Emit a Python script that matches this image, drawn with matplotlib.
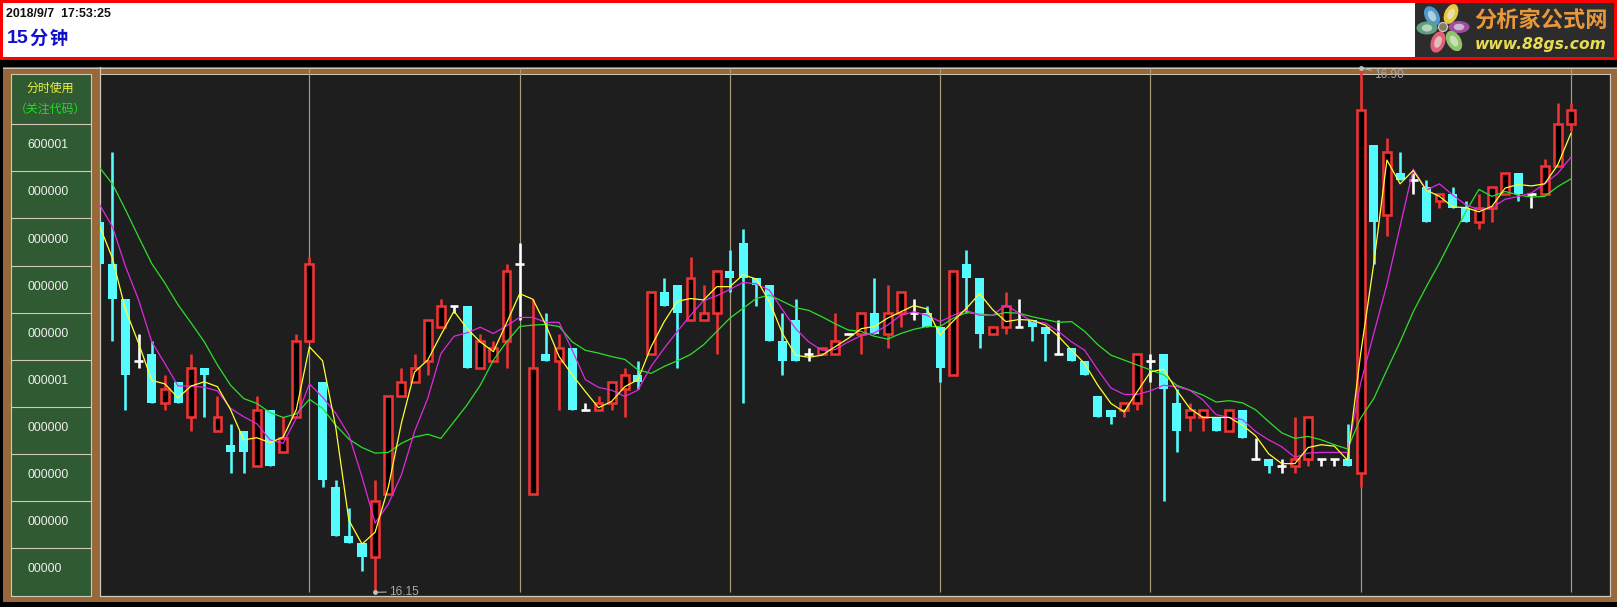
import matplotlib
matplotlib.use("Agg")
import matplotlib.pyplot as plt
from matplotlib.patches import Rectangle, Ellipse

CJK = ['Noto Sans CJK SC', 'DejaVu Sans']
LAT = ['Liberation Sans', 'DejaVu Sans']

# ---------- data ----------
timestamp = "2018/9/7  17:53:25"
period_num = "15"
period_chars = ["分", "钟"]
side_title = "分时使用"
side_sub = "（关注代码）"
side_codes = ["600001", "000000", "000000", "000000", "000000",
              "000001", "000000", "000000", "000000", "00000"]
day_start_bars = [16, 32, 48, 64, 80, 96, 112]

opens = [16.68,16.62,16.57,16.48,16.49,16.42,16.45,16.40,16.47,16.38,16.36,16.38,16.33,16.41,16.35,16.40,16.51,16.45,16.30,16.23,16.22,16.20,16.29,16.43,16.45,
         16.48,16.53,16.56,16.56,16.47,16.48,16.51,16.62,16.29,16.49,16.48,16.50,16.41,16.41,16.42,16.44,16.46,16.49,16.58,16.59,16.54,16.54,16.55,16.61,16.65,16.60,16.59,16.51,16.54,16.49,16.49,
         16.49,16.52,16.52,16.55,16.52,16.55,16.55,16.55,16.53,16.46,16.62,16.60,16.52,16.53,16.53,16.54,16.53,16.49,16.50,16.48,16.43,16.41,16.41,16.42,16.48,16.49,16.42,16.40,16.40,16.40,
         16.38,16.41,16.34,16.34,16.33,16.33,16.34,16.34,16.34,16.34,16.32,16.79,16.69,16.75,16.74,16.73,16.71,16.72,16.70,16.68,16.70,16.72,16.75,16.72,16.72,16.76,16.82]
highs = [16.68,16.78,16.57,16.52,16.51,16.46,16.45,16.49,16.47,16.43,16.39,16.38,16.43,16.41,16.40,16.52,16.63,16.45,16.31,16.27,16.22,16.31,16.43,16.47,16.49,
         16.54,16.57,16.56,16.56,16.52,16.51,16.62,16.65,16.57,16.55,16.52,16.50,16.42,16.43,16.45,16.47,16.48,16.58,16.60,16.59,16.63,16.59,16.61,16.64,16.67,16.60,16.59,16.55,16.57,16.50,16.50,
         16.55,16.52,16.55,16.60,16.59,16.58,16.57,16.56,16.53,16.61,16.64,16.60,16.53,16.58,16.57,16.54,16.53,16.54,16.50,16.48,16.43,16.41,16.42,16.49,16.49,16.49,16.44,16.42,16.41,16.40,
         16.41,16.41,16.37,16.34,16.34,16.40,16.40,16.34,16.34,16.39,16.90,16.79,16.80,16.78,16.75,16.74,16.72,16.73,16.71,16.72,16.73,16.75,16.75,16.72,16.77,16.85,16.85]
lows = [16.62,16.51,16.41,16.47,16.42,16.41,16.42,16.38,16.40,16.38,16.32,16.32,16.33,16.33,16.35,16.40,16.51,16.30,16.23,16.22,16.18,16.15,16.29,16.43,16.45,
        16.46,16.53,16.55,16.47,16.47,16.48,16.47,16.54,16.29,16.48,16.41,16.41,16.41,16.41,16.41,16.40,16.44,16.49,16.56,16.47,16.54,16.54,16.49,16.58,16.42,16.56,16.51,16.46,16.48,16.48,16.49,
        16.49,16.52,16.49,16.52,16.50,16.53,16.54,16.53,16.45,16.46,16.55,16.50,16.52,16.52,16.53,16.51,16.48,16.49,16.48,16.46,16.40,16.39,16.40,16.41,16.45,16.28,16.35,16.38,16.38,16.38,
        16.38,16.37,16.34,16.32,16.32,16.32,16.33,16.33,16.33,16.33,16.30,16.62,16.66,16.74,16.72,16.68,16.70,16.70,16.68,16.67,16.68,16.72,16.71,16.70,16.72,16.76,16.81]
closes = [16.62,16.57,16.46,16.48,16.42,16.44,16.42,16.47,16.46,16.40,16.35,16.35,16.41,16.33,16.37,16.51,16.62,16.31,16.23,16.22,16.20,16.28,16.43,16.45,16.47,
          16.54,16.56,16.56,16.47,16.51,16.50,16.61,16.62,16.47,16.48,16.50,16.41,16.41,16.42,16.45,16.46,16.45,16.58,16.56,16.55,16.60,16.55,16.61,16.60,16.60,16.59,16.51,16.48,16.48,16.49,16.50,
          16.51,16.52,16.55,16.52,16.55,16.58,16.55,16.53,16.47,16.61,16.60,16.52,16.53,16.56,16.53,16.53,16.52,16.49,16.48,16.46,16.40,16.40,16.42,16.49,16.48,16.44,16.38,16.41,16.41,16.38,
          16.41,16.37,16.34,16.33,16.33,16.34,16.40,16.34,16.34,16.33,16.84,16.68,16.78,16.74,16.74,16.68,16.72,16.70,16.68,16.70,16.73,16.75,16.72,16.72,16.76,16.82,16.84]

ma_yellow = [16.675,16.628,16.554,16.506,16.453,16.448,16.428,16.445,16.451,16.444,16.411,16.368,16.371,16.364,16.372,16.411,16.501,16.481,16.386,16.253,16.219,16.236,16.300,16.392,16.465,
             16.482,16.518,16.552,16.527,16.508,16.494,16.535,16.577,16.569,16.532,16.487,16.461,16.437,16.414,16.423,16.444,16.454,16.501,16.537,16.566,16.570,16.568,16.587,16.587,16.604,16.598,16.566,16.520,16.489,16.486,16.489,
             16.501,16.513,16.527,16.530,16.542,16.551,16.560,16.555,16.518,16.538,16.556,16.577,16.554,16.537,16.540,16.539,16.532,16.516,16.496,16.477,16.446,16.420,16.408,16.437,16.465,16.469,16.439,16.413,16.400,16.400,
             16.400,16.389,16.374,16.348,16.334,16.334,16.357,16.361,16.359,16.339,16.491,16.620,16.768,16.734,16.753,16.725,16.716,16.701,16.700,16.694,16.702,16.728,16.733,16.731,16.734,16.761,16.806]
ma_magenta = [16.705,16.673,16.616,16.568,16.508,16.477,16.445,16.445,16.443,16.438,16.413,16.401,16.391,16.368,16.363,16.399,16.448,16.429,16.406,16.375,16.315,16.249,16.276,16.318,16.380,
              16.427,16.491,16.516,16.521,16.529,16.520,16.531,16.543,16.543,16.536,16.536,16.496,16.454,16.443,16.439,16.430,16.439,16.473,16.499,16.523,16.546,16.567,16.574,16.583,16.593,16.591,16.582,16.554,16.527,16.508,16.496,
              16.497,16.508,16.517,16.521,16.532,16.546,16.551,16.546,16.537,16.546,16.553,16.546,16.546,16.561,16.549,16.537,16.535,16.523,16.508,16.496,16.468,16.442,16.433,16.433,16.438,16.446,16.444,16.439,16.425,16.404,
              16.400,16.397,16.380,16.368,16.358,16.343,16.349,16.350,16.350,16.350,16.449,16.520,16.590,16.673,16.755,16.725,16.734,16.718,16.704,16.697,16.700,16.712,16.716,16.721,16.734,16.749,16.772]
ma_green = [16.758,16.734,16.697,16.658,16.620,16.592,16.561,16.535,16.508,16.475,16.446,16.427,16.420,16.407,16.400,16.405,16.426,16.413,16.389,16.369,16.357,16.349,16.350,16.363,16.372,
            16.376,16.370,16.394,16.418,16.446,16.482,16.508,16.530,16.532,16.533,16.530,16.508,16.496,16.492,16.487,16.483,16.468,16.463,16.473,16.481,16.490,16.504,16.523,16.542,16.556,16.570,16.575,16.566,16.557,16.553,16.544,
            16.534,16.525,16.523,16.516,16.512,16.520,16.526,16.530,16.530,16.542,16.550,16.548,16.546,16.550,16.549,16.544,16.540,16.536,16.537,16.523,16.504,16.489,16.482,16.475,16.468,16.461,16.446,16.439,16.432,16.422,
            16.424,16.421,16.411,16.394,16.378,16.370,16.373,16.368,16.361,16.355,16.399,16.427,16.468,16.508,16.551,16.587,16.621,16.658,16.694,16.726,16.716,16.723,16.718,16.715,16.716,16.730,16.741]

# ---------- colours ----------
RED = "#EE3333"
CYAN = "#55FBFF"
WHITE = "#FFFFFF"
BROWN = "#96683A"
PANEL = "#2F5A32"
EDGE = "#CFC9BC"
PLOTBG = "#1E1E1E"
VLINE = "#A99E7C"

W, H = 1617, 607
fig = plt.figure(figsize=(W / 100, H / 100), dpi=100, facecolor="black")

# pixel-coordinate layer for the frame, panels and header
bg = fig.add_axes([0, 0, 1, 1], zorder=0)
bg.set_xlim(0, W)
bg.set_ylim(H, 0)
bg.axis("off")


def box(x0, y0, x1, y1, fc, ec="none", lw=0, **kw):
    bg.add_patch(Rectangle((x0, y0), x1 - x0, y1 - y0, facecolor=fc, edgecolor=ec,
                           linewidth=lw, antialiased=False, **kw))


# header
box(0, 0, W, 60, "#FF0000")
box(3, 3, 1415, 57, "#FFFFFF")
box(1415, 3, 1614, 57, "#2C2C2C")
bg.text(6, 14, timestamp, family=LAT, fontsize=8.9, fontweight="bold", color="#101010", va="center", ha="left")
bg.text(7, 38.5, period_num, family=LAT, fontsize=14, fontweight="bold", color="#1010CC", va="center", ha="left")
for cx, ch in zip([38, 58.5], period_chars):
    bg.text(cx, 38, ch, family=CJK, fontsize=13, fontweight="bold", color="#1010CC", va="center", ha="center")

# logo
petals = [(1432, 16, 14, 21, -30, "#4C9BD0"), (1451, 14, 13, 21, 25, "#E8C840"),
          (1459, 27, 21, 12, 0, "#9C4FA0"), (1454, 41, 14, 22, -30, "#8FC46A"),
          (1438, 42, 14, 22, 20, "#E0607A"), (1427, 28, 21, 13, 0, "#5FA080")]
for px, py, ew, eh, ang, col in petals:
    bg.add_patch(Ellipse((px, py), ew, eh, angle=ang, facecolor=col, edgecolor="none"))
    bg.add_patch(Ellipse((px, py), ew * 0.5, eh * 0.55, angle=ang, facecolor="#E8EEE0", edgecolor="none", alpha=0.65))
bg.add_patch(Ellipse((1443, 27), 9, 9, facecolor="#8A7A60", edgecolor="#D0D0D0", lw=0.8))
bg.text(1541, 20, "分析家公式网", family=CJK, fontsize=16, fontweight="black", color="#E8983C", va="center", ha="center")
bg.text(1541, 44, "www.88gs.com", family="DejaVu Sans", fontsize=11.2, fontweight="bold", style="italic", color="#E8DC50", va="center", ha="center")

# chart frame
box(3, 67, W, 602, BROWN)
bg.plot([3, W], [67.5, 67.5], color=EDGE, lw=0.72)
box(100, 73.5, 1610, 595.5, PLOTBG)
bg.plot([99.5, 99.5, 1610, 1610], [67, 595.5, 595.5, 73.5], color=EDGE, lw=0.9)
bg.plot([99.5, 1610], [73.5, 73.5], color=EDGE, lw=0.72)

# left panel
rows = [73.5, 124.3, 171.3, 218.3, 266, 313.3, 360.3, 407.3, 454.3, 501.3, 548.3, 595.5]
box(10.5, 73.5, 90.5, 595.5, PANEL)
bg.plot([10.5, 90.5, 90.5, 10.5, 10.5], [73.5, 73.5, 595.5, 595.5, 73.5], color=EDGE, lw=0.8)
for r in rows[1:-1]:
    bg.plot([10.5, 90.5], [r, r], color=EDGE, lw=0.8)
bg.text(50.5, 88, side_title, family=CJK, fontsize=8.6, color="#F0F040", va="center", ha="center")
bg.text(50.5, 109, side_sub, family=CJK, fontsize=8.6, color="#20E020", va="center", ha="center")
for code, r0, r1 in zip(side_codes, rows[1:-1], rows[2:]):
    bg.text(27, (r0 + r1) / 2 - 2.5, code, family=LAT, fontsize=8.8, color="#F0F0F0", va="center", ha="left")

# main chart: 16.90 sits at pixel 67.7, one bar is 13.14 pixels
ax = fig.add_axes([100 / W, 1 - 595.5 / H, 1510 / W, (595.5 - 67.7) / H], zorder=1)
ax.patch.set_alpha(0)
ax.set_xlim((100 - 99.2) / 13.14, (1610 - 99.2) / 13.14)
ax.set_ylim(16.90 - (595.5 - 67.7) / 699.5, 16.90)
ax.axis("off")

# session separators run from the frame top down to just above the plot bottom
ax.vlines(day_start_bars, 16.90 - (592 - 67.7) / 699.5, 16.90, color=VLINE, lw=0.85, zorder=1)

PX = 0.72
idx = range(len(opens))
for i in idx:
    o, h, l, c = opens[i], highs[i], lows[i], closes[i]
    col = RED if c > o else (CYAN if c < o else WHITE)
    ax.vlines(i, l, h, color=col, lw=2.6 * PX, zorder=2, capstyle="butt")
    if c > o:
        ax.bar(i, c - o, bottom=o, width=0.6, facecolor="black", edgecolor=RED, linewidth=2.6 * PX, zorder=3)
    elif c < o:
        ax.bar(i, o - c, bottom=c, width=0.69, facecolor=CYAN, edgecolor="none", zorder=3)
    else:
        ax.hlines(c, i - 0.33, i + 0.33, color=WHITE, lw=2.6 * PX, zorder=3)

xs = list(idx)
ax.plot(xs, ma_green, color="#2CE02C", lw=0.9, zorder=4)
ax.plot(xs, ma_magenta, color="#E028E0", lw=0.9, zorder=5)
ax.plot(xs, ma_yellow, color="#FFFF33", lw=0.9, zorder=6)

# extreme labels
lo_i = lows.index(min(lows))
hi_i = highs.index(max(highs))
for i, v, dy in [(lo_i, lows[lo_i], 0.5), (hi_i, highs[hi_i], -5)]:
    ax.annotate(f"{v:.2f}", xy=(i, v), xytext=(10, dy), textcoords="offset points",
                family=LAT, fontsize=8.6, color="#A8A8A8", va="center", ha="left",
                annotation_clip=False, zorder=8,
                arrowprops=dict(arrowstyle="-", color="#B0B0B0", lw=0.8, shrinkA=0, shrinkB=0))
    ax.plot([i], [v], marker="o", ms=2.5, color="#C0C0C0", clip_on=False, zorder=8)

fig.savefig("out.png", dpi=100, facecolor="black")
